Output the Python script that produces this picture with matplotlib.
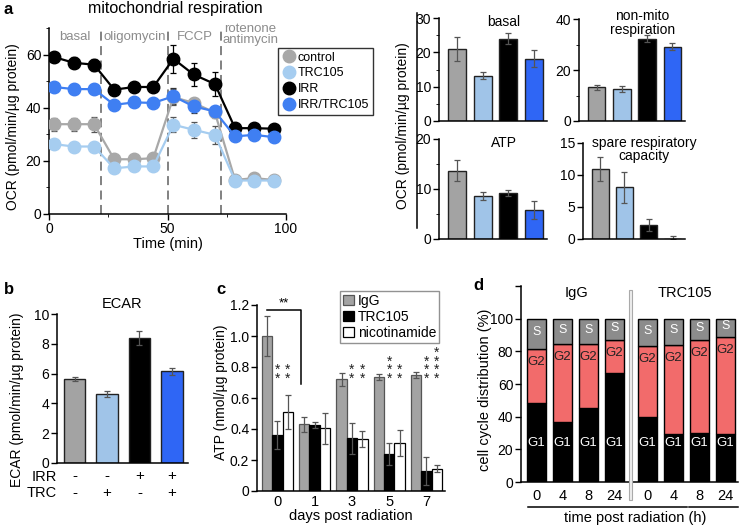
import matplotlib
matplotlib.use("Agg")
import matplotlib.pyplot as plt
import numpy as np
from matplotlib.lines import Line2D
from matplotlib.patches import Rectangle
from matplotlib.ticker import MultipleLocator

plt.rcParams['font.family'] = ['Liberation Sans', 'DejaVu Sans']
plt.rcParams['font.size'] = 10
plt.rcParams['axes.linewidth'] = 1.1
plt.rcParams['xtick.major.width'] = 1.0
plt.rcParams['ytick.major.width'] = 1.0

# ---- panel a: OCR time course
time_min = [2, 10.5, 19, 27.5, 36, 44, 52.5, 61, 70, 78.5, 86.5, 95]
ocr_control = [33.8, 33.8, 33.8, 20.6, 20.6, 21, 44, 41.8, 38.2, 12.8, 13.5, 12.8]
ocr_control_err = [2.5, 2.5, 2.8, 1, 1, 1, 3, 2, 2, 0.8, 0.8, 0.8]
ocr_trc = [26.3, 25.4, 25.4, 17.2, 17.9, 17.9, 33.6, 31.7, 29.8, 12.6, 12.6, 12.6]
ocr_trc_err = [1, 1, 1, 1, 1, 1, 2.8, 3, 3.3, 0.6, 0.6, 0.6]
ocr_irr = [59.1, 56.9, 56.2, 46.8, 47.8, 47.8, 58.4, 52.5, 48.9, 32.3, 32.3, 32.1]
ocr_irr_err = [2, 2, 2.3, 1, 1, 1, 5.2, 4.5, 4.5, 1, 1, 1]
ocr_irr_trc = [47.8, 47, 47, 41.1, 42, 41.8, 44.3, 40.5, 38.6, 29.2, 29.8, 28.9]
ocr_irr_trc_err = [1.5, 1.8, 1.8, 1, 1, 1, 3, 2.5, 1.5, 1, 1, 1]
injections = [22, 50, 72.5]
phases = ['basal', 'oligomycin', 'FCCP', 'rotenone\nantimycin']
phase_x = [11, 36, 61.5, 85]
phase_y = [66.5, 66.5, 66.5, 67.5]

groups = ['control', 'TRC105', 'IRR', 'IRR/TRC105']
line_colors = ['#a8a8a8', '#a6cdf0', '#000000', '#3f7ff2']
bar_colors = ['#a3a3a3', '#a0c4e8', '#000000', '#2f66f5']

# ---- panel a: OCR summary bars
basal = [21, 13.2, 24, 18.2]
basal_err = [3.5, 1, 1.7, 2.5]
nonmito = [13.3, 12.7, 32.3, 29.2]
nonmito_err = [1, 1.2, 1.5, 1.2]
atp_ocr = [13.6, 8.6, 9.2, 5.8]
atp_ocr_err = [2.1, 0.8, 0.6, 1.8]
spare = [10.9, 8.1, 2.2, 0]
spare_err = [1.9, 2.4, 1, 0.5]

# ---- panel b: ECAR
ecar = [5.65, 4.65, 8.4, 6.15]
ecar_err = [0.15, 0.2, 0.45, 0.25]
irr_row = ['-', '-', '+', '+']
trc_row = ['-', '+', '-', '+']

# ---- panel c: ATP after radiation
days = ['0', '1', '3', '5', '7']
atp_igg = [1.0, 0.43, 0.72, 0.735, 0.75]
atp_igg_err = [0.13, 0.05, 0.04, 0.02, 0.02]
atp_trc = [0.36, 0.425, 0.34, 0.24, 0.13]
atp_trc_err = [0.09, 0.02, 0.1, 0.07, 0.09]
atp_nic = [0.51, 0.405, 0.335, 0.31, 0.145]
atp_nic_err = [0.11, 0.1, 0.05, 0.085, 0.02]
stars_trc = ['**', '', '**', '***', '***']
stars_nic = ['**', '', '**', '**', '****']

# ---- panel d: cell cycle
hours = ['0', '4', '8', '24', '0', '4', '8', '24']
g1 = [48.5, 36.5, 45.5, 67, 39.5, 29.5, 30, 29.5]
g2 = [33, 48, 39, 20, 43.5, 54.5, 57, 59.5]
s_phase = [18.5, 15.5, 15.5, 13, 17, 16, 13, 11]

W, H = 741, 527
fig = plt.figure(figsize=(W / 100, H / 100), dpi=100)


def box(l, t, r, b):
    return [l / W, 1 - b / H, (r - l) / W, (b - t) / H]


def ftext(x, y, s, **kw):
    fig.text(x / W, 1 - y / H, s, **kw)


def style(ax):
    for sp in ['top', 'right']:
        ax.spines[sp].set_visible(False)
    ax.tick_params(direction='out', length=4, labelsize=10, pad=1.5)
    ax.tick_params(which='minor', direction='out', length=2.5)


# panel a - line chart
ax = fig.add_axes(box(49, 28, 286, 214))
series = [ocr_control, ocr_trc, ocr_irr, ocr_irr_trc]
errs = [ocr_control_err, ocr_trc_err, ocr_irr_err, ocr_irr_trc_err]
ecols = ['#555555', '#555555', '#000000', '#333333']
for vals, err, c, ec in zip(series, errs, line_colors, ecols):
    ax.errorbar(time_min, vals, yerr=err, fmt='none', ecolor=ec, elinewidth=0.9,
                capsize=2.5, capthick=0.9, zorder=2)
    ax.plot(time_min, vals, '-o', color=c, lw=1.6, ms=9, mec=c, zorder=3)
for xv in injections:
    ax.axvline(xv, color='#777777', ls=(0, (5, 3)), lw=1.3, zorder=1)
for px, py, lab in zip(phase_x, phase_y, phases):
    ax.text(px, py, lab, ha='center', va='center', color='#8c8c8c', fontsize=9.5,
            linespacing=0.95, clip_on=False)
ax.set_xlim(0, 100)
ax.set_ylim(0, 70)
ax.set_yticks([0, 20, 40, 60])
ax.yaxis.set_minor_locator(MultipleLocator(10))
ax.set_xticks([0, 50, 100])
ax.xaxis.set_minor_locator(MultipleLocator(25))
style(ax)
ax.set_xlabel('Time (min)', fontsize=10.5, labelpad=1)
ftext(13, 127, 'OCR (pmol/min/\u00b5g protein)', rotation=90, ha='center', va='center', fontsize=10)
ftext(175, 8, 'mitochondrial respiration', ha='center', va='center', fontsize=11.5)
ftext(4, 10, 'a', fontsize=12, fontweight='bold', ha='left', va='center')
handles = [Line2D([], [], marker='o', ls='none', ms=9, color=c) for c in line_colors]
ax.legend(handles, groups, loc='upper left', bbox_to_anchor=(278 / W, 1 - 48 / H),
          bbox_transform=fig.transFigure, frameon=True, fancybox=False, edgecolor='black',
          fontsize=9, handletextpad=0.1, borderpad=0.3, labelspacing=0.3,
          handlelength=1.2, borderaxespad=0)


# panel a - summary bars
def bar_panel(rect, vals, yerr, ymax, yticks, minor, title, title_y):
    a = fig.add_axes(box(*rect))
    x = np.arange(len(vals))
    a.bar(x, vals, width=0.7, color=bar_colors, edgecolor='#222222', linewidth=1.0)
    a.errorbar(x, vals, yerr=yerr, fmt='none', ecolor='#555555', elinewidth=0.9,
               capsize=2.5, capthick=0.9)
    a.set_xlim(-0.7, 3.5)
    a.set_ylim(0, ymax)
    a.set_yticks(yticks)
    a.yaxis.set_minor_locator(MultipleLocator(minor))
    a.set_xticks([])
    style(a)
    a.text(0.6, title_y, title, transform=a.transAxes, ha='center', va='center',
           fontsize=10, linespacing=0.95)
    return a


bar_panel((439, 18, 547, 121), basal, basal_err, 30, [0, 10, 20, 30], 5, 'basal', 0.96)
bar_panel((579, 19, 685, 121), nonmito, nonmito_err, 40, [0, 20, 40], 10,
          'non-mito\nrespiration', 0.96)
bar_panel((439, 139, 547, 239), atp_ocr, atp_ocr_err, 20, [0, 10, 20], 5, 'ATP', 0.96)
spare_yerr = [[e if v > 0 else 0 for v, e in zip(spare, spare_err)], spare_err]
bar_panel((583, 143, 685, 239), spare, spare_yerr, 15, [0, 5, 10, 15], 5,
          'spare respiratory\ncapacity', 0.93)
fig.add_artist(Line2D([417 / W, 417 / W], [1 - 13 / H, 1 - 228 / H], color='black', lw=1.1))
ftext(403, 126, 'OCR (pmol/min/\u00b5g protein)', rotation=90, ha='center', va='center', fontsize=10)

# panel b - ECAR
ax = fig.add_axes(box(57, 314, 188, 463))
xb = np.arange(len(ecar))
ax.bar(xb, ecar, width=0.66, color=bar_colors, edgecolor='#222222', linewidth=1.0)
ax.errorbar(xb, ecar, yerr=ecar_err, fmt='none', ecolor='#555555', elinewidth=0.9,
            capsize=2.5, capthick=0.9)
ax.set_xlim(-0.55, 3.5)
ax.set_ylim(0, 10)
ax.set_yticks([0, 2, 4, 6, 8, 10])
ax.set_xticks([])
style(ax)
ax.set_title('ECAR', fontsize=10.5, pad=4)
for i, (p, q) in enumerate(zip(irr_row, trc_row)):
    ax.text(i, -0.09, p, transform=ax.get_xaxis_transform(), ha='center', va='center', fontsize=11)
    ax.text(i, -0.20, q, transform=ax.get_xaxis_transform(), ha='center', va='center', fontsize=11)
ftext(57, 477, 'IRR', ha='right', va='center', fontsize=10.5)
ftext(57, 493, 'TRC', ha='right', va='center', fontsize=10.5)
ftext(17, 400, 'ECAR (pmol/min/\u00b5g protein)', rotation=90, ha='center', va='center', fontsize=10)
ftext(4, 290, 'b', fontsize=12, fontweight='bold', ha='left', va='center')

# panel c - ATP
ax = fig.add_axes(box(257, 305, 445, 491))
xc = np.arange(len(days))
bw = 0.28
ax.bar(xc - bw, atp_igg, bw, color='#a3a3a3', edgecolor='#555555', lw=0.9, label='IgG')
ax.bar(xc, atp_trc, bw, color='black', edgecolor='black', lw=0.9, label='TRC105')
ax.bar(xc + bw, atp_nic, bw, color='white', edgecolor='black', lw=0.9, label='nicotinamide')
for off, vals, err in [(-bw, atp_igg, atp_igg_err), (0, atp_trc, atp_trc_err),
                       (bw, atp_nic, atp_nic_err)]:
    ax.errorbar(xc + off, vals, yerr=err, fmt='none', ecolor='#555555', elinewidth=0.9,
                capsize=2, capthick=0.9)
for i in range(len(days)):
    for off, st in [(0, stars_trc[i]), (bw, stars_nic[i])]:
        if st:
            ax.text(xc[i] + off, 0.68, '\n'.join(st), ha='center', va='bottom',
                    fontsize=10, color='#222222', linespacing=0.5)
ax.plot([-bw, 0.62, 0.62], [1.17, 1.17, 0.69], color='black', lw=1.1, clip_on=False)
ax.text(0.17, 1.17, '**', ha='center', va='bottom', fontsize=9.5)
ax.set_xlim(-0.55, 4.5)
ax.set_ylim(0, 1.2)
ax.set_yticks([0, 0.2, 0.4, 0.6, 0.8, 1.0, 1.2])
ax.set_yticklabels(['0', '0.2', '0.4', '0.6', '0.8', '1.0', '1.2'])
ax.set_xticks(xc)
ax.set_xticklabels(days)
style(ax)
ax.tick_params(axis='x', length=0, labelsize=10.5, pad=3)
ax.set_xlabel('days post radiation', fontsize=10.5, labelpad=0)
ftext(221, 392, 'ATP (nmol/\u00b5g protein)', rotation=90, ha='center', va='center', fontsize=10)
ftext(216, 290, 'c', fontsize=12, fontweight='bold', ha='left', va='center')
ax.legend(loc='upper left', bbox_to_anchor=(340 / W, 1 - 291 / H), bbox_transform=fig.transFigure,
          frameon=True, fancybox=False, edgecolor='#777777', fontsize=10,
          handlelength=0.8, handleheight=0.8, handletextpad=0.3, borderpad=0.2,
          labelspacing=0.15, borderaxespad=0)

# panel d - cell cycle
ax = fig.add_axes(box(521, 286, 738, 482))
xd = np.array([0, 1, 2, 3, 4.27, 5.27, 6.27, 7.27])
g1g2 = [a + b for a, b in zip(g1, g2)]
ax.bar(xd, g1, 0.7, color='black', edgecolor='black', lw=1.0)
ax.bar(xd, g2, 0.7, bottom=g1, color='#f26b6b', edgecolor='black', lw=1.0)
ax.bar(xd, s_phase, 0.7, bottom=g1g2, color='#8c8c8c', edgecolor='black', lw=1.0)
for xi, top, sv in zip(xd, g1g2, s_phase):
    ax.text(xi, 24, 'G1', color='white', ha='center', va='center', fontsize=9.5)
    ax.text(xi, top - 8, 'G2', color='#222222', ha='center', va='center', fontsize=9.5)
    ax.text(xi, top + sv / 2 + 1, 'S', color='white', ha='center', va='center', fontsize=9)
ax.set_xlim(-0.6, 7.75)
ax.set_ylim(0, 120)
ax.set_yticks([0, 20, 40, 60, 80, 100, 120])
ax.set_yticklabels(['0', '20', '40', '60', '80', '100', ''])
ax.set_xticks(xd)
ax.set_xticklabels(hours)
style(ax)
ax.tick_params(axis='x', length=0, labelsize=10.5, pad=5)
ftext(577, 293, 'IgG', ha='center', va='center', fontsize=10.5)
ftext(685, 293, 'TRC105', ha='center', va='center', fontsize=10.5)
fig.add_artist(Rectangle((628.5 / W, 1 - 500 / H), 3.5 / W, 210 / H, facecolor='#eeeeee',
                         edgecolor='#aaaaaa', lw=0.8))
fig.add_artist(Line2D([528 / W, 687 / W], [1 - 507 / H] * 2, color='black', lw=1.1))
fig.add_artist(Line2D([689 / W, 738 / W], [1 - 507 / H] * 2, color='black', lw=1.1))
ftext(635, 518, 'time post radiation (h)', ha='center', va='center', fontsize=10.5)
ftext(485, 390, 'cell cycle distribution (%)', rotation=90, ha='center', va='center', fontsize=10.5)
ftext(473, 285, 'd', fontsize=12, fontweight='bold', ha='left', va='center')

fig.savefig('out.png', dpi=100)
